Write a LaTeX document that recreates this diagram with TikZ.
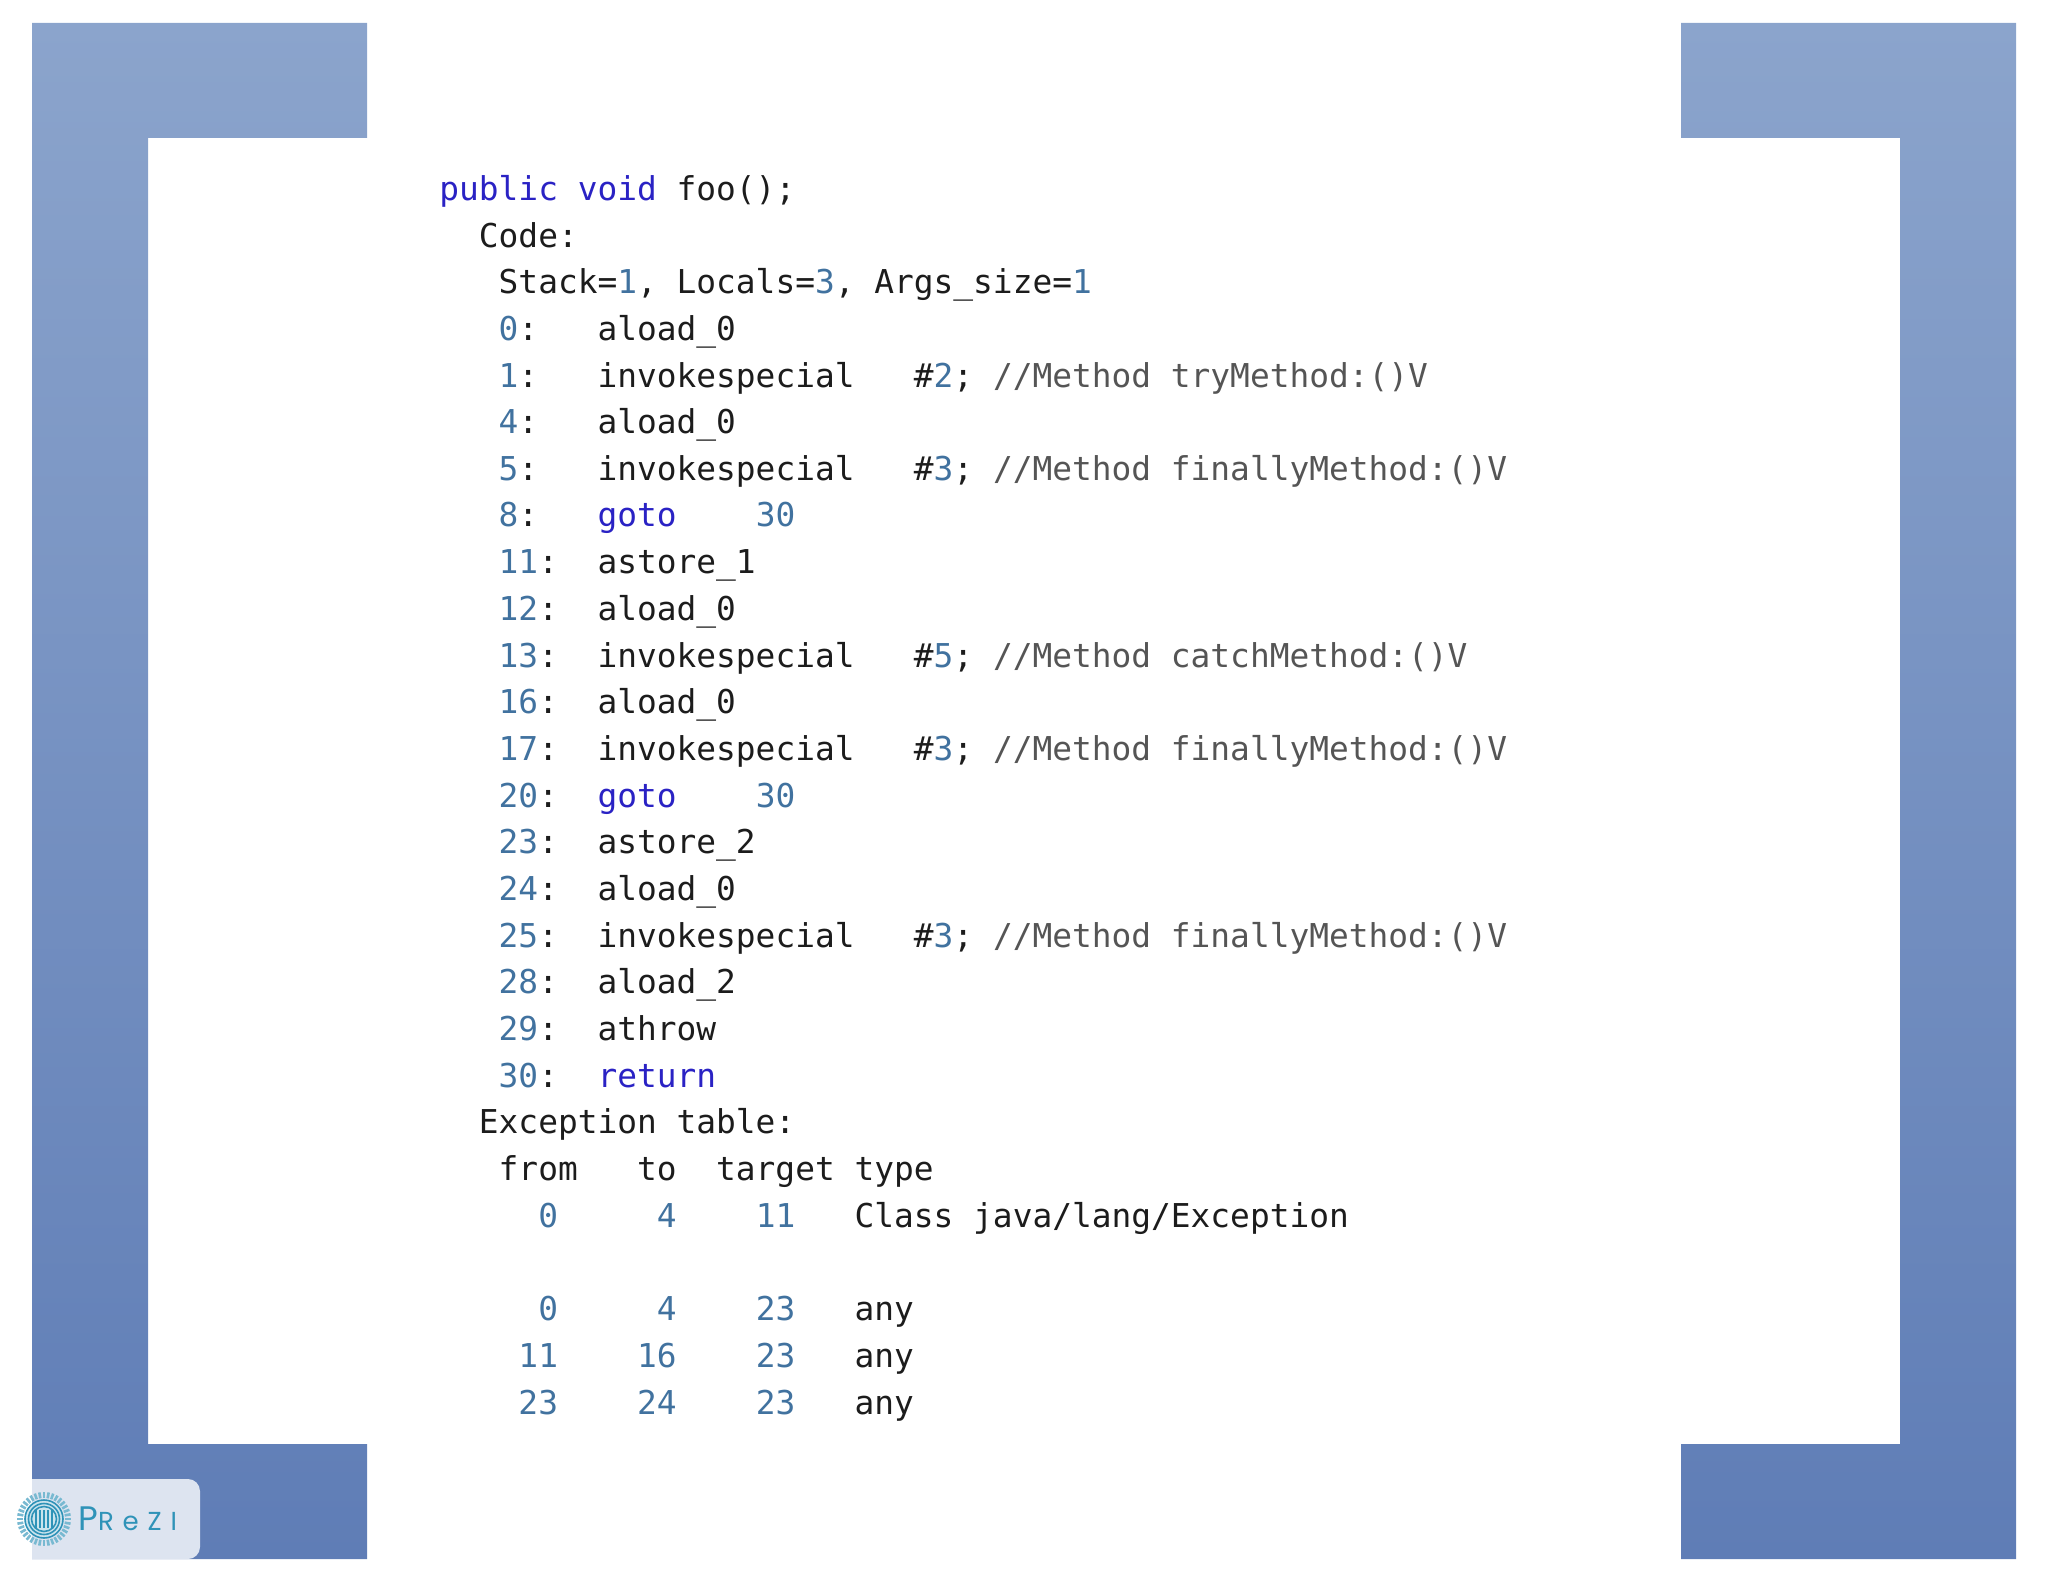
\documentclass[tikz,border=0pt]{standalone}
\usepackage{fontspec}
\usetikzlibrary{calc}
\setmonofont{DejaVu Sans Mono}
\newfontfamily\prezifont[LetterSpace=34]{Poppins}
\definecolor{kwblue}{HTML}{2A22C4}
\definecolor{numblue}{HTML}{41729F}
\definecolor{cmgray}{HTML}{555555}
\definecolor{inkblack}{HTML}{1C1C1C}
\definecolor{topblue}{HTML}{8BA4CC}
\definecolor{lowblue}{HTML}{5F7DB6}
\definecolor{badgeblue}{HTML}{DDE4F0}
\definecolor{prezteal}{HTML}{2F93B8}
\newcommand{\kw}[1]{\textcolor{kwblue}{#1}}
\newcommand{\nm}[1]{\textcolor{numblue}{#1}}
\newcommand{\cm}[1]{\textcolor{cmgray}{#1}}
\begin{document}
\begin{tikzpicture}[x=0.5pt,y=-0.5pt]
	\tikzset{codeline/.style={anchor=base west,inner sep=0pt,text=inkblack,font=\ttfamily\fontsize{16.42}{20}\selectfont}}
	\tikzset{bracket/.style={top color=topblue,bottom color=lowblue,draw=none}}
	\tikzset{tick/.style={draw=prezteal!65,line width=1.3pt}}
	\tikzset{ring/.style={draw=prezteal,line width=0.8pt}}
	\useasboundingbox (0,0) rectangle (2048,1582);
	% corner brackets
	\path[bracket] (367,23) -- (32,23) -- (32,1559) -- (367,1559) -- (367,1444) -- (148,1444) -- (148,138) -- (367,138) -- cycle;
	\path[bracket] (1681,23) -- (2016,23) -- (2016,1559) -- (1681,1559) -- (1681,1444) -- (1900,1444) -- (1900,138) -- (1681,138) -- cycle;
	% badge
	\fill[badgeblue] (32,1479) -- (188,1479) arc[start angle=-90,end angle=0,radius=12] -- (200,1547) arc[start angle=0,end angle=90,radius=12] -- (32,1559) -- cycle;
	\foreach \a in {0,10,...,350}
		\draw[tick] ($(44,1519)+(\a:21)$) -- ($(44,1519)+(\a:27)$);
	\draw[ring,fill=prezteal!25] (44,1519) circle[radius=19];
	\draw[ring] (44,1519) circle[radius=15.5];
	\draw[ring] (44,1519) circle[radius=12.5];
	\foreach \d in {-8,-4,0,4,8}
		\draw[prezteal,line width=0.6pt] (44+\d,1510) -- (44+\d,1528);
	\node[anchor=base west,inner sep=0pt,text=prezteal,font=\prezifont] (prezi) at (78,1530) {{\fontsize{17}{20}\selectfont P}{\fontsize{13}{20}\selectfont ReZI}};
	% code listing
	\node[codeline] (line0) at (439,201) {\kw{public void} foo();};
	\node[codeline] (line1) at (439,248) {~~Code:};
	\node[codeline] (line2) at (439,294) {~~~Stack=\nm{1}, Locals=\nm{3}, Args\_size=\nm{1}};
	\node[codeline] (line3) at (439,341) {~~~\nm{0}:~~~aload\_0};
	\node[codeline] (line4) at (439,388) {~~~\nm{1}:~~~invokespecial~~~\#\nm{2}; \cm{//Method tryMethod:()V}};
	\node[codeline] (line5) at (439,434) {~~~\nm{4}:~~~aload\_0};
	\node[codeline] (line6) at (439,481) {~~~\nm{5}:~~~invokespecial~~~\#\nm{3}; \cm{//Method finallyMethod:()V}};
	\node[codeline] (line7) at (439,527) {~~~\nm{8}:~~~\kw{goto}~~~~\nm{30}};
	\node[codeline] (line8) at (439,574) {~~~\nm{11}:~~astore\_1};
	\node[codeline] (line9) at (439,620) {~~~\nm{12}:~~aload\_0};
	\node[codeline] (line10) at (439,667) {~~~\nm{13}:~~invokespecial~~~\#\nm{5}; \cm{//Method catchMethod:()V}};
	\node[codeline] (line11) at (439,713) {~~~\nm{16}:~~aload\_0};
	\node[codeline] (line12) at (439,760) {~~~\nm{17}:~~invokespecial~~~\#\nm{3}; \cm{//Method finallyMethod:()V}};
	\node[codeline] (line13) at (439,807) {~~~\nm{20}:~~\kw{goto}~~~~\nm{30}};
	\node[codeline] (line14) at (439,853) {~~~\nm{23}:~~astore\_2};
	\node[codeline] (line15) at (439,900) {~~~\nm{24}:~~aload\_0};
	\node[codeline] (line16) at (439,947) {~~~\nm{25}:~~invokespecial~~~\#\nm{3}; \cm{//Method finallyMethod:()V}};
	\node[codeline] (line17) at (439,993) {~~~\nm{28}:~~aload\_2};
	\node[codeline] (line18) at (439,1040) {~~~\nm{29}:~~athrow};
	\node[codeline] (line19) at (439,1087) {~~~\nm{30}:~~\kw{return}};
	\node[codeline] (line20) at (439,1133) {~~Exception table:};
	\node[codeline] (line21) at (439,1180) {~~~from~~~to~~target type};
	\node[codeline] (line22) at (439,1227) {~~~~~\nm{0}~~~~~\nm{4}~~~~\nm{11}~~~Class java/lang/Exception};
	\node[codeline] (line24) at (439,1320) {~~~~~\nm{0}~~~~~\nm{4}~~~~\nm{23}~~~any};
	\node[codeline] (line25) at (439,1367) {~~~~\nm{11}~~~~\nm{16}~~~~\nm{23}~~~any};
	\node[codeline] (line26) at (439,1414) {~~~~\nm{23}~~~~\nm{24}~~~~\nm{23}~~~any};
\end{tikzpicture}
\end{document}
